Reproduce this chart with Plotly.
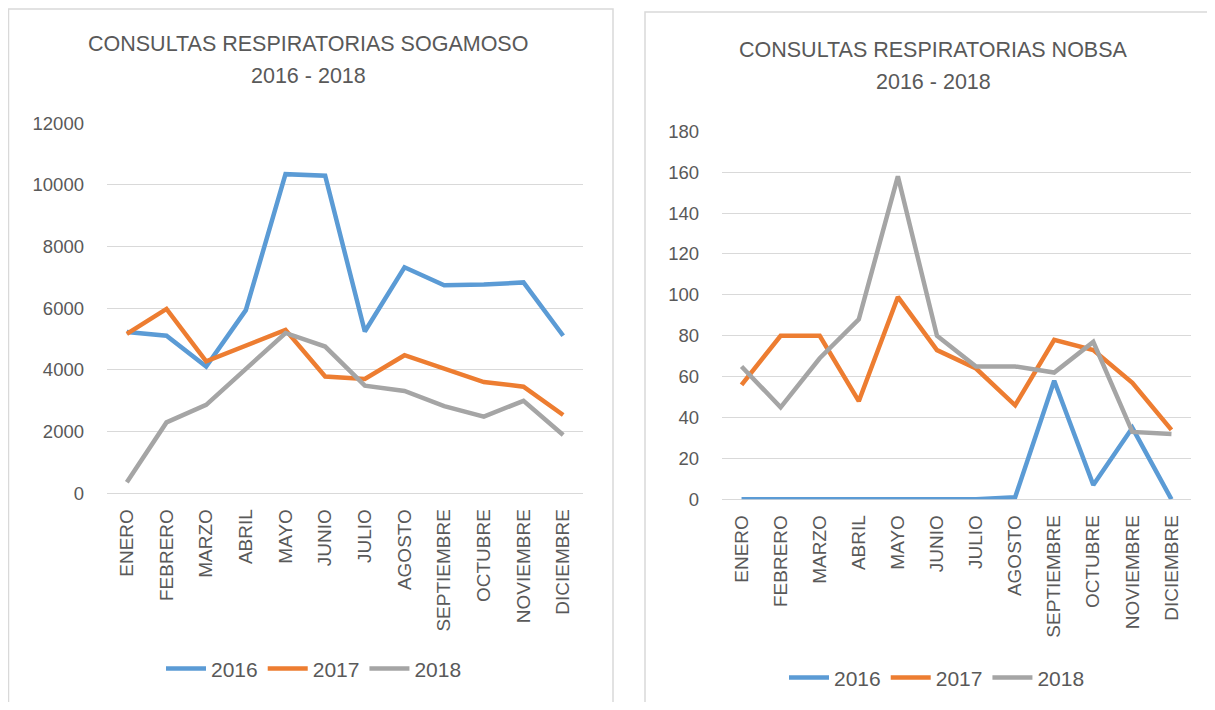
import plotly.graph_objects as go

meses = ["ENERO", "FEBRERO", "MARZO", "ABRIL", "MAYO", "JUNIO", "JULIO",
         "AGOSTO", "SEPTIEMBRE", "OCTUBRE", "NOVIEMBRE", "DICIEMBRE"]
anios = ["2016", "2017", "2018"]

# Sogamoso
sog_2016 = [5230, 5110, 4110, 5940, 10350, 10300, 5250, 7330, 6750, 6770, 6840, 5110]
sog_2017 = [5170, 5980, 4280, 4790, 5300, 3790, 3710, 4480, 4060, 3610, 3460, 2540]
sog_2018 = [360, 2300, 2870, 4030, 5200, 4760, 3490, 3320, 2830, 2490, 3000, 1890]

# Nobsa
nob_2016 = [0, 0, 0, 0, 0, 0, 0, 1, 58, 7, 35, 0]
nob_2017 = [56, 80, 80, 48, 99, 73, 64, 46, 78, 73, 57, 34]
nob_2018 = [65, 45, 69, 88, 158, 80, 65, 65, 62, 77, 33, 32]

colores = ["#5B9BD5", "#ED7D31", "#A5A5A5"]
gris_txt = "#595959"
fuente = "Liberation Sans"

OFF = 8
W, H = 1215 - 2 * OFF, 710 - 2 * OFF
TOP, ESC = 20, 0.967  # where the figure lands on the photographed page


def px(x):
    return (x - OFF) / W


def py(y):
    return 1 - ((y - TOP) / ESC) / H


fig = go.Figure()

for nombre, serie, color in zip(anios, [sog_2016, sog_2017, sog_2018], colores):
    fig.add_trace(go.Scatter(x=meses, y=serie, name=nombre, mode="lines",
                             line=dict(color=color, width=4.5),
                             xaxis="x", yaxis="y", legend="legend"))

for nombre, serie, color in zip(anios, [nob_2016, nob_2017, nob_2018], colores):
    fig.add_trace(go.Scatter(x=meses, y=serie, name=nombre, mode="lines",
                             line=dict(color=color, width=4.5),
                             xaxis="x2", yaxis="y2", legend="legend2"))

eje_x = dict(type="category", range=[-0.5, 11.5], tickangle=-90,
             showgrid=False, zeroline=False, showline=False, ticks="",
             ticklabelstandoff=11,
             tickfont=dict(family=fuente, size=19, color=gris_txt))
eje_y = dict(showgrid=True, gridcolor="#d9d9d9", gridwidth=1,
             zeroline=True, zerolinecolor="#d9d9d9", zerolinewidth=1,
             showline=False, ticks="", ticklen=0, tickformat="d",
             ticklabelstandoff=22,
             tickfont=dict(family=fuente, size=18.5, color=gris_txt))

leg = dict(orientation="h", xanchor="center", yanchor="middle",
           font=dict(family=fuente, size=21, color=gris_txt),
           bgcolor="rgba(0,0,0,0)", itemwidth=40)


def titulo(texto, x, y):
    return dict(text=texto, xref="paper", yref="paper", x=px(x), y=py(y),
                xanchor="center", yanchor="middle", showarrow=False,
                font=dict(family=fuente, size=21.5, color=gris_txt))


fig.update_layout(
    width=W, height=H,
    margin=dict(l=0, r=0, t=0, b=0),
    paper_bgcolor="white", plot_bgcolor="white",
    xaxis=dict(eje_x, domain=[px(107), px(583)], anchor="y"),
    yaxis=dict(eje_y, domain=[py(493), py(124)], range=[0, 12000],
               dtick=2000, anchor="x"),
    xaxis2=dict(eje_x, domain=[px(722), px(1191)], anchor="y2"),
    yaxis2=dict(eje_y, domain=[py(499), py(132)], range=[0, 180],
                dtick=20, anchor="x2"),
    legend=dict(leg, x=px(314), y=py(668)),
    legend2=dict(leg, x=px(937), y=py(677)),
    shapes=[
        dict(type="rect", xref="paper", yref="paper",
             x0=px(8.5), x1=px(613), y0=py(702), y1=py(10),
             line=dict(color="#d9d9d9", width=1.5)),
        dict(type="rect", xref="paper", yref="paper",
             x0=px(645), x1=px(1211), y0=py(720), y1=py(13),
             line=dict(color="#d9d9d9", width=1.5)),
    ],
    annotations=[
        titulo("CONSULTAS RESPIRATORIAS SOGAMOSO", 308, 45),
        titulo("2016 - 2018", 308, 77),
        titulo("CONSULTAS RESPIRATORIAS NOBSA", 933, 51),
        titulo("2016 - 2018", 933, 83),
    ],
)

fig.write_html("out.html")
